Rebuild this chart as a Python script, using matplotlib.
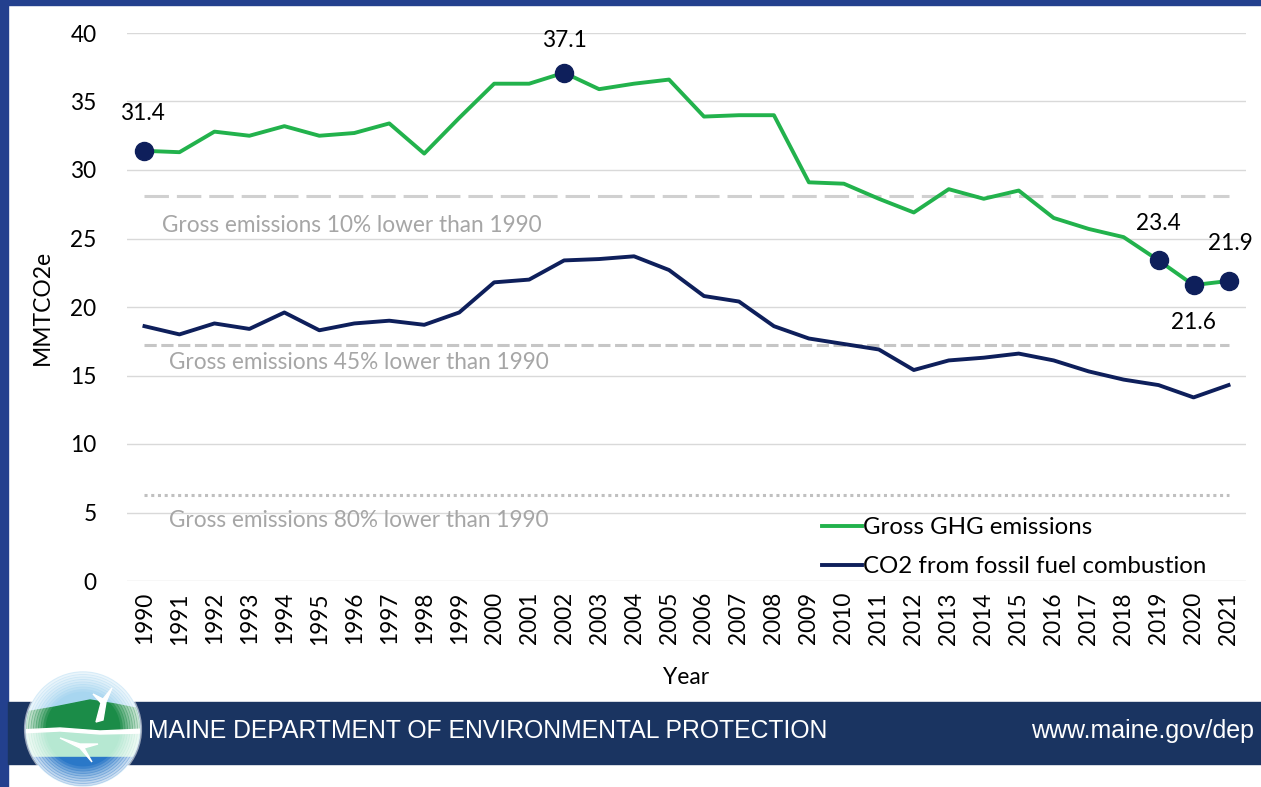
import matplotlib.pyplot as plt
from matplotlib.patches import Circle, Rectangle, Polygon

plt.rcParams['font.family'] = ['Lato', 'DejaVu Sans']

# data
years = list(range(1990, 2022))
gross = [31.4, 31.3, 32.8, 32.5, 33.2, 32.5, 32.7, 33.4, 31.2, 33.8,
         36.3, 36.3, 37.1, 35.9, 36.3, 36.6, 33.9, 34.0, 34.0, 29.1,
         29.0, 27.9, 26.9, 28.6, 27.9, 28.5, 26.5, 25.7, 25.1, 23.4,
         21.6, 21.9]
co2 = [18.6, 18.0, 18.8, 18.4, 19.6, 18.3, 18.8, 19.0, 18.7, 19.6,
       21.8, 22.0, 23.4, 23.5, 23.7, 22.7, 20.8, 20.4, 18.6, 17.7,
       17.3, 16.9, 15.4, 16.1, 16.3, 16.6, 16.1, 15.3, 14.7, 14.3,
       13.4, 14.3]
targets = [28.1, 17.2, 6.3]
target_labels = ['Gross emissions 10% lower than 1990',
                 'Gross emissions 45% lower than 1990',
                 'Gross emissions 80% lower than 1990']
marked_years = [1990, 2002, 2019, 2020, 2021]

green = '#22b24c'
navy = '#0e1f5b'
W, H = 1261, 787

fig = plt.figure(figsize=(W / 100, H / 100), dpi=100)

# pixel overlay for border and footer
bg = fig.add_axes([0, 0, 1, 1])
bg.set_xlim(0, W)
bg.set_ylim(H, 0)
bg.axis('off')
bg.add_patch(Rectangle((0, 0), W, 5, color='#23408e'))
bg.add_patch(Rectangle((0, 0), 8, H, color='#23408e'))
bg.add_patch(Rectangle((8, 702), W - 8, 62, color='#1a3461'))
bg.text(148, 731, 'MAINE DEPARTMENT OF ENVIRONMENTAL PROTECTION', color='white',
        fontsize=17.8, family='Liberation Sans', va='center', ha='left')
bg.text(1254, 731, 'www.maine.gov/dep', color='white',
        fontsize=18, family='Liberation Sans', va='center', ha='right')

# logo (rough sketch)
cx, cy, r = 83, 729, 57
clip = Circle((cx, cy), r, transform=bg.transData)
bg.add_patch(Circle((cx, cy), r, color='#a8d6f0', zorder=3))
parts = [
    (Polygon([(20, 713), (55, 707), (90, 700), (115, 704), (145, 710), (145, 731), (20, 731)],
             color='#1b8c48'), 4),
    (Rectangle((20, 731), 130, 26, color='#b6e8d2'), 4),
    (Rectangle((20, 757), 130, 40, color='#2a78c8'), 4),
    (Polygon([(20, 730), (60, 728), (100, 731), (145, 729), (145, 733), (100, 734), (60, 731), (20, 733)],
             color='white'), 5),
    (Polygon([(96, 722), (101, 703), (93, 694), (103, 699), (112, 688), (106, 702), (103, 720)],
             color='white'), 6),
    (Polygon([(60, 738), (80, 748), (92, 762), (84, 748), (98, 744), (80, 744)],
             color='white'), 6),
]
for p, z in parts:
    p.set_zorder(z)
    p.set_clip_path(clip)
    bg.add_patch(p)
for i in range(8):
    bg.add_patch(Circle((cx, cy), r - i * 2.5, fill=False, lw=3, ec='white',
                        alpha=0.55 - i * 0.065, zorder=7))

# main chart
ax = fig.add_axes([127 / W, 1 - 581 / H, (1246 - 127) / W, (581 - 33) / H])
x = list(range(len(years)))
ax.set_xlim(-0.5, len(years) - 0.5)
ax.set_ylim(0, 40)
ax.set_yticks(range(0, 41, 5))
ax.set_xticks(x)
ax.set_xticklabels([str(y) for y in years], rotation=90)
ax.grid(axis='y', color='#d9d9d9', linewidth=1)
ax.set_axisbelow(True)
for s in ax.spines.values():
    s.set_visible(False)
ax.tick_params(axis='both', length=0, labelsize=16.3, colors='black')
ax.tick_params(axis='y', pad=22)
ax.tick_params(axis='x', pad=8)

styles = [(0, (8, 2.6)), (0, (4, 1.5)), (0, (1, 1.2))]
target_cols = ['#d0d0d0', '#c6c6c6', '#c0c0c0']
text_pos = [(0.5, -29), (0.7, -17), (0.7, -26)]
for t, lbl, ls, c, (tx, dy) in zip(targets, target_labels, styles, target_cols, text_pos):
    ax.plot([0, len(years) - 1], [t, t], color=c, lw=2.2, ls=ls, zorder=1)
    ax.annotate(lbl, (tx, t), xytext=(0, dy), textcoords='offset pixels',
                color='#a6a6a6', fontsize=16.3, va='center', ha='left')

ax.plot(x, gross, color=green, lw=2.8, label='Gross GHG emissions', zorder=3)
ax.plot(x, co2, color=navy, lw=2.8, label='CO2 from fossil fuel combustion', zorder=3)

offsets = {1990: (-2, 37), 2002: (0, 32), 2019: (0, 37), 2020: (0, -37), 2021: (2, 37)}
for yr in marked_years:
    i = years.index(yr)
    ax.plot(x[i], gross[i], 'o', color=navy, ms=13, zorder=4)
    ax.annotate(f'{gross[i]:.1f}', (x[i], gross[i]), xytext=offsets[yr],
                textcoords='offset pixels', ha='center', va='center', fontsize=16.3)

ax.legend(loc='upper left', bbox_to_anchor=(0.621, 0.116), frameon=False,
          fontsize=17.3, handlelength=1.65, handletextpad=0.05, borderpad=0,
          labelspacing=0.75, borderaxespad=0)

ax.set_xlabel('Year', fontsize=16.5, labelpad=16)
ax.set_ylabel('MMTCO2e', fontsize=16.5, labelpad=12)

fig.savefig('out.png', dpi=100)
